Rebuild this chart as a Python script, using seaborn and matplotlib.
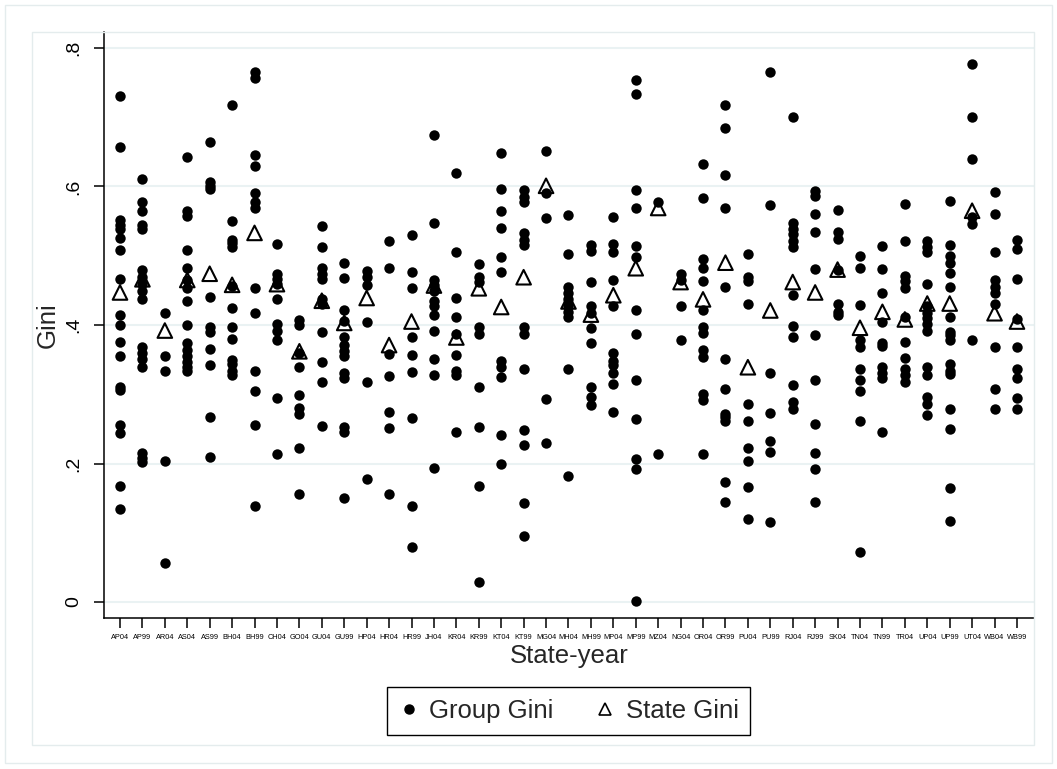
import matplotlib
matplotlib.use('Agg')
import matplotlib.pyplot as plt
import seaborn as sns
import pandas as pd
from matplotlib.lines import Line2D
from matplotlib.patches import Rectangle

states = ["AP04", "AP99", "AR04", "AS04", "AS99", "BH04", "BH99", "CH04", "GO04", "GU04",
          "GU99", "HP04", "HR04", "HR99", "JH04", "KR04", "KR99", "KT04", "KT99", "MG04",
          "MH04", "MH99", "MP04", "MP99", "MZ04", "NG04", "OR04", "OR99", "PU04", "PU99",
          "RJ04", "RJ99", "SK04", "TN04", "TN99", "TR04", "UP04", "UP99", "UT04", "WB04", "WB99"]

group_gini = [
    [0.730, 0.657, 0.552, 0.545, 0.538, 0.526, 0.508, 0.466, 0.414, 0.400, 0.375, 0.355, 0.311, 0.306, 0.256, 0.244, 0.167, 0.135],  # AP04
    [0.611, 0.577, 0.565, 0.545, 0.539, 0.480, 0.470, 0.459, 0.449, 0.438, 0.368, 0.360, 0.351, 0.339, 0.215, 0.208, 0.202],  # AP99
    [0.417, 0.355, 0.334, 0.204, 0.056],  # AR04
    [0.643, 0.565, 0.558, 0.508, 0.482, 0.465, 0.453, 0.434, 0.400, 0.374, 0.364, 0.355, 0.347, 0.339, 0.334],  # AS04
    [0.664, 0.606, 0.601, 0.597, 0.441, 0.397, 0.390, 0.366, 0.342, 0.267, 0.209],  # AS99
    [0.717, 0.550, 0.523, 0.518, 0.512, 0.456, 0.425, 0.397, 0.380, 0.350, 0.343, 0.334, 0.328],  # BH04
    [0.765, 0.757, 0.645, 0.630, 0.590, 0.578, 0.569, 0.453, 0.418, 0.334, 0.304, 0.256, 0.138],  # BH99
    [0.517, 0.473, 0.467, 0.459, 0.438, 0.401, 0.391, 0.379, 0.295, 0.213],  # CH04
    [0.407, 0.400, 0.359, 0.339, 0.299, 0.280, 0.271, 0.223, 0.156],  # GO04
    [0.543, 0.513, 0.482, 0.473, 0.466, 0.438, 0.430, 0.390, 0.346, 0.318, 0.254],  # GU04
    [0.489, 0.468, 0.422, 0.406, 0.382, 0.371, 0.363, 0.355, 0.330, 0.323, 0.252, 0.245, 0.150],  # GU99
    [0.478, 0.470, 0.458, 0.405, 0.318, 0.177],  # HP04
    [0.521, 0.483, 0.358, 0.327, 0.275, 0.251, 0.156],  # HR04
    [0.530, 0.476, 0.454, 0.382, 0.357, 0.332, 0.266, 0.139, 0.080],  # HR99
    [0.674, 0.548, 0.465, 0.458, 0.449, 0.435, 0.427, 0.414, 0.391, 0.351, 0.328, 0.193],  # JH04
    [0.619, 0.506, 0.439, 0.412, 0.387, 0.357, 0.334, 0.328, 0.246],  # KR04
    [0.488, 0.470, 0.462, 0.397, 0.387, 0.311, 0.252, 0.168, 0.029],  # KR99
    [0.649, 0.597, 0.565, 0.540, 0.498, 0.476, 0.348, 0.339, 0.325, 0.241, 0.199],  # KT04
    [0.595, 0.585, 0.577, 0.533, 0.523, 0.515, 0.397, 0.387, 0.337, 0.248, 0.227, 0.143, 0.096],  # KT99
    [0.651, 0.590, 0.554, 0.293, 0.230],  # MG04
    [0.559, 0.503, 0.455, 0.446, 0.438, 0.428, 0.419, 0.412, 0.337, 0.182],  # MH04
    [0.515, 0.507, 0.462, 0.427, 0.417, 0.395, 0.374, 0.311, 0.296, 0.284],  # MH99
    [0.556, 0.517, 0.506, 0.465, 0.427, 0.360, 0.348, 0.342, 0.331, 0.315, 0.275],  # MP04
    [0.754, 0.734, 0.595, 0.569, 0.514, 0.498, 0.421, 0.387, 0.321, 0.264, 0.206, 0.192, 0.001],  # MP99
    [0.577, 0.214],  # MZ04
    [0.473, 0.465, 0.428, 0.379],  # NG04
    [0.633, 0.583, 0.496, 0.482, 0.464, 0.421, 0.397, 0.389, 0.364, 0.354, 0.300, 0.291, 0.213],  # OR04
    [0.717, 0.684, 0.616, 0.569, 0.455, 0.351, 0.307, 0.271, 0.267, 0.262, 0.174, 0.145],  # OR99
    [0.503, 0.469, 0.464, 0.430, 0.286, 0.262, 0.222, 0.204, 0.166, 0.120],  # PU04
    [0.765, 0.574, 0.331, 0.273, 0.233, 0.216, 0.115],  # PU99
    [0.701, 0.547, 0.539, 0.531, 0.521, 0.513, 0.443, 0.399, 0.382, 0.313, 0.289, 0.278],  # RJ04
    [0.593, 0.587, 0.560, 0.534, 0.481, 0.386, 0.321, 0.257, 0.215, 0.192, 0.144],  # RJ99
    [0.566, 0.534, 0.524, 0.480, 0.430, 0.419, 0.414],  # SK04
    [0.499, 0.483, 0.429, 0.379, 0.368, 0.337, 0.321, 0.304, 0.262, 0.072],  # TN04
    [0.514, 0.481, 0.446, 0.404, 0.374, 0.370, 0.340, 0.331, 0.323, 0.245],  # TN99
    [0.575, 0.522, 0.471, 0.464, 0.453, 0.412, 0.376, 0.353, 0.336, 0.328, 0.318],  # TR04
    [0.521, 0.513, 0.506, 0.459, 0.427, 0.418, 0.410, 0.401, 0.392, 0.339, 0.328, 0.296, 0.286, 0.270],  # UP04
    [0.579, 0.515, 0.499, 0.489, 0.475, 0.455, 0.412, 0.390, 0.385, 0.378, 0.344, 0.334, 0.329, 0.278, 0.250, 0.164, 0.117],  # UP99
    [0.777, 0.700, 0.640, 0.556, 0.546, 0.379],  # UT04
    [0.592, 0.561, 0.506, 0.465, 0.455, 0.446, 0.431, 0.368, 0.307, 0.278],  # WB04
    [0.523, 0.510, 0.466, 0.408, 0.368, 0.336, 0.323, 0.295, 0.279],  # WB99
]

state_gini = [0.447, 0.466, 0.392, 0.465, 0.474, 0.458, 0.533, 0.459, 0.362, 0.435,
              0.403, 0.439, 0.371, 0.405, 0.457, 0.382, 0.453, 0.426, 0.469, 0.601,
              0.434, 0.415, 0.443, 0.482, 0.569, 0.462, 0.437, 0.490, 0.339, 0.421,
              0.462, 0.447, 0.480, 0.396, 0.419, 0.408, 0.431, 0.431, 0.565, 0.417, 0.405]

y_ticks = [0, 0.2, 0.4, 0.6, 0.8]
y_ticklabels = ["0", ".2", ".4", ".6", ".8"]

sns.set_style("ticks")
plt.rcParams['font.family'] = ['Liberation Sans', 'DejaVu Sans']

grp = pd.DataFrame({
    "state": [s for s, vals in zip(states, group_gini) for _ in vals],
    "gini": [v for vals in group_gini for v in vals],
})
st = pd.DataFrame({"state": states, "gini": state_gini})

W, H = 1057, 769
fig = plt.figure(figsize=(W / 100, H / 100), dpi=100)
fig.patch.set_facecolor("white")

# Stata-like graph region frames
border_col = "#e4eced"
fig.add_artist(Rectangle((5 / W, 1 - 763 / H), 1047 / W, 758 / H, transform=fig.transFigure,
                         fill=False, edgecolor=border_col, linewidth=1.0))
fig.add_artist(Rectangle((32 / W, 1 - 745 / H), 1002 / W, 713 / H, transform=fig.transFigure,
                         fill=False, edgecolor=border_col, linewidth=1.0))

ax = fig.add_axes([104 / W, 1 - 618 / H, (1034 - 104) / W, (618 - 32) / H])
ax.set_facecolor("white")

sns.stripplot(data=grp, x="state", y="gini", order=states, jitter=False, color="black",
              size=7.5, linewidth=0, ax=ax, zorder=3)
n_before = len(ax.collections)
sns.stripplot(data=st, x="state", y="gini", order=states, jitter=False, marker="^",
              color="black", edgecolor="black", size=10.5, linewidth=1.5, ax=ax, zorder=4)
for c in ax.collections[n_before:]:
    c.set_facecolor("none")
    c.set_edgecolor("black")
    c.set_linewidth(1.5)

ax.set_xlim(-0.713, 40.76)
ax.set_ylim(-0.0231, 0.8231)
ax.set_yticks(y_ticks)
ax.set_yticklabels(y_ticklabels, rotation=90, va="center", fontsize=14)
ax.tick_params(axis="y", direction="out", length=7.5, width=1.1, pad=8, colors="black")
ax.tick_params(axis="x", direction="out", length=7.5, width=1.1, pad=4, labelsize=5.3, colors="black")

ax.yaxis.grid(True, color="#eaf2f3", linewidth=1.5)
ax.xaxis.grid(False)
ax.set_axisbelow(True)

for side in ["top", "right"]:
    ax.spines[side].set_visible(False)
for side in ["left", "bottom"]:
    ax.spines[side].set_color("black")
    ax.spines[side].set_linewidth(1.1)

ax.set_xlabel("State-year", fontsize=18.5, labelpad=2)
ax.set_ylabel("Gini", fontsize=18.5, labelpad=4)

handles = [
    Line2D([], [], marker="o", linestyle="none", markerfacecolor="black", markeredgecolor="black",
           markersize=6.5, label="Group Gini"),
    Line2D([], [], marker="^", linestyle="none", markerfacecolor="none", markeredgecolor="black",
           markeredgewidth=1.2, markersize=8.5, label="State Gini"),
]
leg = fig.legend(handles=handles, loc="center", bbox_to_anchor=(568.5 / W, 1 - 711 / H),
                 ncol=2, fontsize=18.5, frameon=True, fancybox=False, edgecolor="black",
                 framealpha=1, borderpad=0.45, handlelength=0.8, handletextpad=0.4,
                 columnspacing=1.6)
leg.get_frame().set_linewidth(1.0)

fig.savefig("out.png", dpi=100, facecolor="white")
